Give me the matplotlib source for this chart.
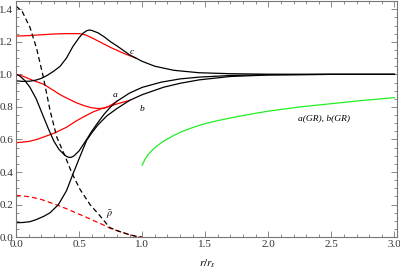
import numpy as np
import matplotlib.pyplot as plt
from matplotlib.ticker import MultipleLocator

plt.rcParams['font.family'] = ['Liberation Serif', 'DejaVu Serif']
plt.rcParams['mathtext.fontset'] = 'stix'

# Datos (r/r_s, valor)
r_c = [0, 0.003, 0.05, 0.11, 0.16, 0.2, 0.25, 0.3, 0.35, 0.4, 0.45, 0.5, 0.53, 0.56,
       0.58, 0.6, 0.65, 0.7, 0.75, 0.8, 0.9, 1.0, 1.1, 1.25, 1.45, 1.7, 2.0, 2.5, 3.0]
c_num = [1.0, 0.96, 0.957, 0.958, 0.965, 0.975, 0.995, 1.02, 1.05, 1.1, 1.17, 1.225,
         1.252, 1.268, 1.272, 1.27, 1.255, 1.23, 1.2, 1.175, 1.12, 1.08, 1.05, 1.025,
         1.01, 1.004, 1.001, 1.0, 1.0]

r_a = [0, 0.03, 0.07, 0.11, 0.16, 0.22, 0.26, 0.3, 0.34, 0.375, 0.4, 0.42, 0.44, 0.46,
       0.5, 0.56, 0.6, 0.65, 0.7, 0.75, 0.8, 0.9, 1.0, 1.15, 1.3, 1.45, 1.7, 2.0, 2.5, 3.0]
a_num = [1.0, 0.99, 0.962, 0.921, 0.85, 0.735, 0.66, 0.59, 0.54, 0.512, 0.496, 0.49,
         0.491, 0.5, 0.53, 0.6, 0.65, 0.705, 0.757, 0.8, 0.835, 0.885, 0.92, 0.952,
         0.972, 0.983, 0.993, 0.998, 1.0, 1.0]

r_b = [0, 0.002, 0.05, 0.11, 0.16, 0.22, 0.27, 0.336, 0.4, 0.455, 0.508, 0.56, 0.6,
       0.65, 0.72, 0.8, 0.9, 1.0, 1.17, 1.3, 1.45, 1.7, 2.0, 2.5, 3.0]
b_num = [0.0, 0.089, 0.09, 0.095, 0.108, 0.128, 0.15, 0.2, 0.285, 0.395, 0.497, 0.595,
         0.64, 0.69, 0.745, 0.79, 0.84, 0.875, 0.921, 0.945, 0.966, 0.987, 0.996, 1.0, 1.0]

r_rho = [0, 0.05, 0.111, 0.164, 0.217, 0.27, 0.323, 0.389, 0.442, 0.508, 0.587, 0.667,
         0.72, 0.746, 0.82, 0.9, 0.97, 1.0]
rho_num = [1.42, 1.385, 1.288, 1.157, 0.982, 0.778, 0.615, 0.497, 0.395, 0.293, 0.2,
           0.13, 0.08, 0.058, 0.035, 0.015, 0.002, 0.0]

# Curvas aproximadas (rojo)
r_c2 = [0, 0.002, 0.1, 0.2, 0.3, 0.4, 0.5, 0.55, 0.6, 0.65, 0.7, 0.75, 0.8, 0.85, 0.9, 0.95]
c_apr = [1.265, 1.235, 1.238, 1.243, 1.248, 1.25, 1.25, 1.243, 1.225, 1.205, 1.185,
         1.165, 1.148, 1.13, 1.115, 1.1]

r_a2 = [0, 0.05, 0.137, 0.217, 0.3, 0.35, 0.4, 0.48, 0.55, 0.6, 0.65, 0.7, 0.74, 0.78, 0.8]
a_apr = [1.0, 0.99, 0.962, 0.94, 0.9, 0.875, 0.855, 0.825, 0.805, 0.795, 0.79, 0.792,
         0.805, 0.825, 0.835]

r_b2 = [0, 0.1, 0.164, 0.3, 0.4, 0.48, 0.55, 0.614, 0.68, 0.746, 0.82, 0.9]
b_apr = [0.58, 0.588, 0.6, 0.638, 0.675, 0.715, 0.745, 0.77, 0.79, 0.805, 0.823, 0.84]

r_rho2 = [0, 0.111, 0.2, 0.323, 0.4, 0.482, 0.55, 0.614, 0.68, 0.746, 0.82, 0.9, 0.97, 1.0]
rho_apr = [0.257, 0.248, 0.232, 0.198, 0.175, 0.147, 0.125, 0.102, 0.08, 0.055, 0.035,
           0.015, 0.002, 0.0]

# Relatividad General
r_gr = [1.0, 1.02, 1.05, 1.08, 1.117, 1.16, 1.2, 1.249, 1.31, 1.381, 1.45, 1.513,
        1.6, 1.75, 1.9, 2.0, 2.25, 2.5, 2.75, 3.0]
ab_gr = [0.442, 0.475, 0.51, 0.535, 0.56, 0.585, 0.603, 0.624, 0.647, 0.668, 0.686,
         0.70, 0.716, 0.74, 0.761, 0.774, 0.8, 0.82, 0.84, 0.857]

fig = plt.figure(figsize=(4.0, 2.72), dpi=100)
ax = fig.add_axes([0.04, 0.128, 0.9525, 0.868])

lw = 0.9
rojo = '#ff0000'
ax.plot(r_c2, c_apr, color=rojo, lw=lw)
ax.plot(r_a2, a_apr, color=rojo, lw=lw)
ax.plot(r_b2, b_apr, color=rojo, lw=lw)
ax.plot(r_rho2, rho_apr, color=rojo, lw=lw, dashes=(4, 2.5))
ax.plot(r_gr, ab_gr, color='#22ee22', lw=lw)

ax.plot(r_c, c_num, color='black', lw=lw)
ax.plot(r_a, a_num, color='black', lw=lw)
ax.plot(r_b, b_num, color='black', lw=lw)
ax.plot(r_rho, rho_num, color='black', lw=lw, dashes=(4, 2.5))

# Etiquetas
fs = 6.8
ax.text(0.918, 1.14, 'c', style='italic', fontsize=fs, ha='center', va='center')
ax.text(0.786, 0.876, 'a', style='italic', fontsize=fs, ha='center', va='center')
ax.text(0.998, 0.79, 'b', style='italic', fontsize=fs, ha='center', va='center')
ax.text(2.44, 0.728, 'a(GR), b(GR)', style='italic', fontsize=fs, ha='center', va='center')
ax.text(0.745, 0.14, r'$\bar{\rho}$', fontsize=fs + 0.5, ha='center', va='center')

ax.set_xlim(0, 3.02)
ax.set_ylim(0, 1.45)
ax.xaxis.set_major_locator(MultipleLocator(0.5))
ax.xaxis.set_minor_locator(MultipleLocator(0.1))
ax.yaxis.set_major_locator(MultipleLocator(0.2))
ax.yaxis.set_minor_locator(MultipleLocator(0.05))
ax.xaxis.set_major_formatter(plt.FuncFormatter(lambda v, p: f'{v:.1f}'))
ax.yaxis.set_major_formatter(plt.FuncFormatter(lambda v, p: f'{v:.1f}'))

gris = '#777777'
for s in ax.spines.values():
    s.set_color(gris)
    s.set_linewidth(0.8)
ax.tick_params(which='both', direction='in', top=True, right=True, color=gris,
               labelsize=8, labelcolor='#333333', width=0.6)
ax.tick_params(which='major', length=4, pad=2)
ax.tick_params(which='minor', length=2)

fig.text(0.5175, 0.03, r'$r/r_s$', fontsize=8, ha='center', va='center')

fig.savefig('out.png', dpi=100)
